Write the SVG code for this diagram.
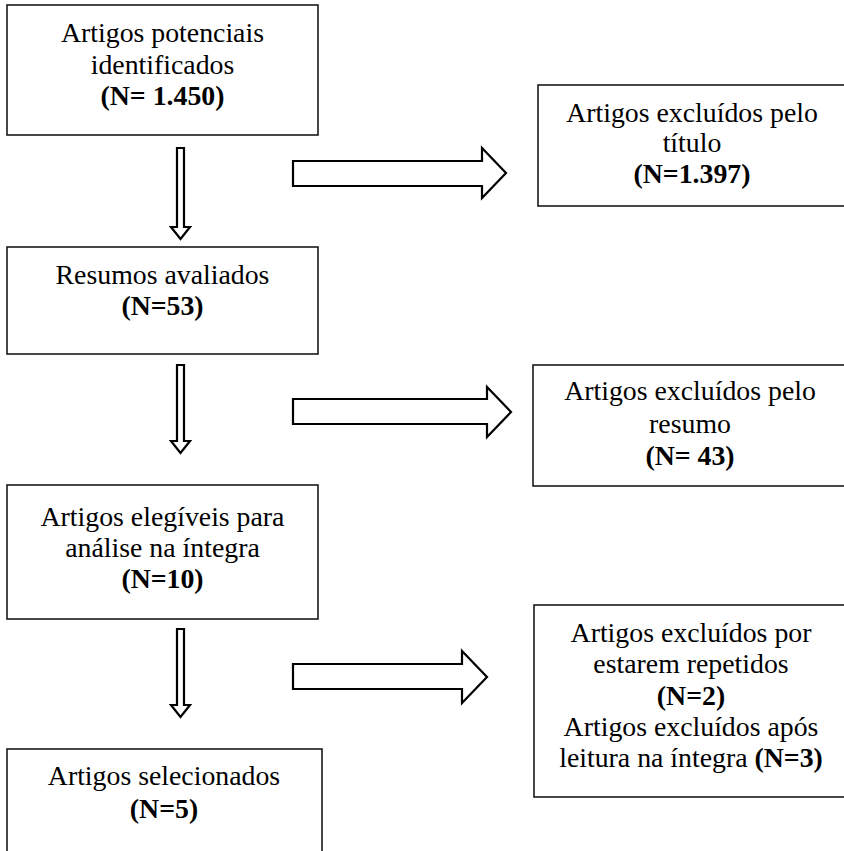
<svg xmlns="http://www.w3.org/2000/svg" width="844" height="851" viewBox="0 0 844 851">
<style>
.box{fill:#fff;stroke:#1a1a1a;stroke-width:1.6}
.arr{fill:#fff;stroke:#000;stroke-width:2.2;stroke-linejoin:miter}
.b{font-weight:bold}
</style>
<rect width="844" height="851" fill="#fff"/>
<g id="connectors">
<polygon class="arr" points="177,148 184,148 184,227 190,227 180.5,239 171,227 177,227"/>
<polygon class="arr" points="177,365 184,365 184,441 190,441 180.5,453 171,441 177,441"/>
<polygon class="arr" points="177,629 184,629 184,705 190,705 180.5,717 171,705 177,705"/>
<polygon class="arr" points="293,161 482,161 482,148 506,173 482,198 482,186 293,186"/>
<polygon class="arr" points="293,399 487,399 487,387 511,412 487,437 487,424 293,424"/>
<polygon class="arr" points="293,664 462,664 462,651 487,677 462,703 462,689 293,689"/>
</g>
<g font-family="Liberation Serif, Times New Roman, serif" font-size="27.8" fill="#000" text-anchor="middle">
<g id="n1">
<rect class="box" x="7" y="5" width="311" height="130"/>
<text x="162.5" y="42">Artigos potenciais</text>
<text x="162.5" y="74">identificados</text>
<text x="162.5" y="105" class="b">(N= 1.450)</text>
</g>
<g id="n2">
<rect class="box" x="538" y="85" width="310" height="121"/>
<text x="692" y="122">Artigos excluídos pelo</text>
<text x="692" y="152">título</text>
<text x="692" y="183" class="b">(N=1.397)</text>
</g>
<g id="n3">
<rect class="box" x="7" y="247" width="311" height="107"/>
<text x="162.5" y="284">Resumos avaliados</text>
<text x="162.5" y="315" class="b">(N=53)</text>
</g>
<g id="n4">
<rect class="box" x="533" y="365" width="315" height="121"/>
<text x="690" y="400">Artigos excluídos pelo</text>
<text x="690" y="433">resumo</text>
<text x="690" y="465" class="b">(N= 43)</text>
</g>
<g id="n5">
<rect class="box" x="7" y="485" width="311" height="134"/>
<text x="162.5" y="526">Artigos elegíveis para</text>
<text x="162.5" y="557">análise na íntegra</text>
<text x="162.5" y="588" class="b">(N=10)</text>
</g>
<g id="n6">
<rect class="box" x="534" y="605" width="314" height="192"/>
<text x="691" y="642">Artigos excluídos por</text>
<text x="691" y="673">estarem repetidos</text>
<text x="691" y="705" class="b">(N=2)</text>
<text x="691" y="736">Artigos excluídos após</text>
<text x="691" y="767">leitura na íntegra <tspan class="b">(N=3)</tspan></text>
</g>
<g id="n7">
<rect class="box" x="7" y="749" width="315" height="120"/>
<text x="164" y="785">Artigos selecionados</text>
<text x="164" y="818" class="b">(N=5)</text>
</g>
</g>
</svg>
